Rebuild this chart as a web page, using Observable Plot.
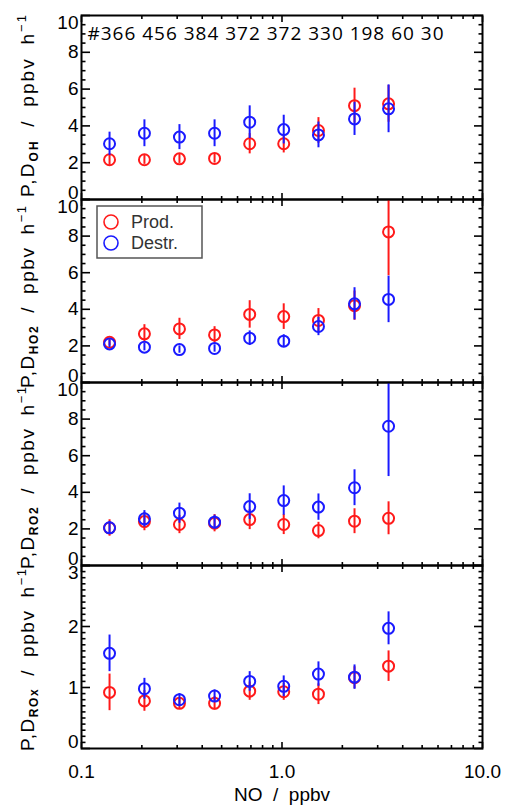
<!DOCTYPE html>
<html><head><meta charset="utf-8">
<script src="https://cdn.jsdelivr.net/npm/d3@7"></script>
<script src="https://cdn.jsdelivr.net/npm/@observablehq/plot@0.6"></script>
<style>
body{margin:0;background:#fff;}
#chart{position:relative;width:507px;height:806px;}
#chart svg{position:absolute;left:0;top:0;}
</style></head><body><div id="chart"></div>
<script>
// NO bins (ppbv) and number of points per bin
const no = [0.138, 0.206, 0.308, 0.461, 0.69, 1.02, 1.52, 2.3, 3.4];
const counts = [366, 456, 384, 372, 372, 330, 198, 60, 30];

// OH
const ohProd      = [2.16, 2.16, 2.21, 2.23, 3.03, 3.03, 3.75, 5.10, 5.20];
const ohProdErr   = [0.30, 0.25, 0.25, 0.25, 0.55, 0.50, 0.70, 0.95, 1.00];
const ohDestr     = [3.03, 3.60, 3.39, 3.60, 4.20, 3.80, 3.51, 4.38, 4.93];
const ohDestrErr  = [0.63, 0.73, 0.68, 0.73, 0.89, 0.78, 0.70, 0.90, 1.30];
// HO2
const ho2Prod     = [2.20, 2.66, 2.93, 2.60, 3.72, 3.60, 3.39, 4.20, 8.23];
const ho2ProdErr  = [0.20, 0.50, 0.58, 0.45, 0.75, 0.70, 0.65, 0.80, 2.40];
const ho2Destr    = [2.11, 1.93, 1.80, 1.86, 2.42, 2.26, 3.06, 4.30, 4.54];
const ho2DestrErr = [0.20, 0.20, 0.20, 0.20, 0.40, 0.35, 0.50, 0.88, 1.27];
// RO2
const ro2Prod     = [2.05, 2.40, 2.24, 2.31, 2.51, 2.24, 1.91, 2.42, 2.58];
const ro2ProdErr  = [0.45, 0.50, 0.50, 0.47, 0.55, 0.55, 0.45, 0.68, 0.90];
const ro2Destr    = [2.06, 2.55, 2.86, 2.37, 3.22, 3.55, 3.19, 4.25, 7.61];
const ro2DestrErr = [0.35, 0.45, 0.55, 0.38, 0.70, 0.80, 0.72, 0.98, 2.75];
// ROx
const roxProd     = [0.92, 0.78, 0.74, 0.74, 0.94, 0.93, 0.89, 1.16, 1.35];
const roxProdErr  = [0.30, 0.17, 0.09, 0.11, 0.15, 0.14, 0.17, 0.18, 0.25];
const roxDestr    = [1.56, 0.98, 0.80, 0.86, 1.10, 1.02, 1.22, 1.17, 1.97];
const roxDestrErr = [0.30, 0.17, 0.10, 0.10, 0.16, 0.17, 0.20, 0.20, 0.27];

// ticks
const xMajor = [0.1, 1, 10];
const xMinor = [0.2,0.3,0.4,0.5,0.6,0.7,0.8,0.9,2,3,4,5,6,7,8,9];
const yMajor10 = [0, 2, 4, 6, 8, 10];
const yMinor10 = d3.range(0, 10.01, 0.5).filter(v => v % 2 !== 0);
const yMajor3 = [0, 1, 2, 3];
const yMinor3 = d3.range(1, 30).map(v => v / 10).filter(v => Math.round(v * 10) % 10 !== 0);

const seriesNames = ["Prod.", "Destr."];
const subs = ["OH", "HO2", "RO2", "ROx"];
const xLabel = "NO\u2007/\u2007ppbv";

const RED = "#ff1a1a", BLUE = "#1a1aff";
const FONT = "'Liberation Sans', Arial, Helvetica, sans-serif";

const panels = [
  {ymax: 10, prod: ohProd,  pe: ohProdErr,  destr: ohDestr,  de: ohDestrErr},
  {ymax: 10, prod: ho2Prod, pe: ho2ProdErr, destr: ho2Destr, de: ho2DestrErr},
  {ymax: 10, prod: ro2Prod, pe: ro2ProdErr, destr: ro2Destr, de: ro2DestrErr},
  {ymax: 3,  prod: roxProd, pe: roxProdErr, destr: roxDestr, de: roxDestrErr}
];
const W = 507, H = 806;
const tops = [15, 199, 382, 565], bottoms = [199, 382, 565, 748];
const labelCY = [106, 297, 478, 660];

const chart = document.getElementById("chart");
const fmt = d => String(d);

panels.forEach((p, i) => {
  const rows = no.map((x, j) => ({x, prod: p.prod[j], pe: p.pe[j], destr: p.destr[j], de: p.de[j]}));
  const major = p.ymax === 10 ? yMajor10 : yMajor3;
  const minor = p.ymax === 10 ? yMinor10 : yMinor3;
  const tk = {fill: "none", label: null, strokeWidth: 1.6};
  const marks = [
    Plot.ruleX(rows, {x: "x", y1: d => d.prod - d.pe, y2: d => d.prod + d.pe, stroke: RED, strokeWidth: 2, clip: "frame"}),
    Plot.dot(rows, {x: "x", y: "prod", r: 5.5, stroke: RED, strokeWidth: 2, fill: "none"}),
    Plot.ruleX(rows, {x: "x", y1: d => d.destr - d.de, y2: d => d.destr + d.de, stroke: BLUE, strokeWidth: 2, clip: "frame"}),
    Plot.dot(rows, {x: "x", y: "destr", r: 5.5, stroke: BLUE, strokeWidth: 2, fill: "none"}),
    Plot.axisY({ticks: major, anchor: "left", tickSize: -9, ...tk}),
    Plot.axisY({ticks: minor, anchor: "left", tickSize: -4.5, ...tk}),
    Plot.axisY({ticks: major, anchor: "right", tickSize: -9, ...tk}),
    Plot.axisY({ticks: minor, anchor: "right", tickSize: -4.5, ...tk}),
    Plot.axisX({ticks: xMajor, anchor: "bottom", tickSize: -6, ...tk}),
    Plot.axisX({ticks: xMinor, anchor: "bottom", tickSize: -3, ...tk}),
    Plot.axisX({ticks: xMajor, anchor: "top", tickSize: -6, ...tk}),
    Plot.axisX({ticks: xMinor, anchor: "top", tickSize: -3, ...tk}),
    Plot.axisY({ticks: major.slice(1, -1), anchor: "left", tickSize: 0, tickPadding: 3, tickFormat: fmt, label: null}),
    Plot.axisY({ticks: [major[major.length - 1]], anchor: "left", tickSize: 0, tickPadding: 3, dy: 7, tickFormat: fmt, label: null}),
    Plot.axisY({ticks: [0], anchor: "left", tickSize: 0, tickPadding: 3, dy: -7, tickFormat: fmt, label: null}),
    Plot.frame({stroke: "black", strokeWidth: 2})
  ];
  if (i === 0) {
    marks.push(Plot.text(["#" + counts.join(" ")], {text: d => d, frameAnchor: "top-left", dx: 6, dy: 11, lineAnchor: "top", textAnchor: "start", fontFamily: "'Open Sans', 'Noto Sans', sans-serif", fontSize: 19, fill: "black"}));
  }
  if (i === 3) {
    marks.push(Plot.axisX({ticks: xMajor, anchor: "bottom", tickSize: 0, tickPadding: 16, tickFormat: d => d.toFixed(1), label: null}));
    marks.push(Plot.text([xLabel], {text: d => d, frameAnchor: "bottom", dy: 52, fontSize: 19, fill: "black"}));
  }
  const svgEl = Plot.plot({
    width: W, height: H,
    marginLeft: 81, marginRight: W - 482, marginTop: tops[i], marginBottom: H - bottoms[i],
    x: {type: "log", domain: [0.1, 10], axis: null},
    y: {domain: [0, p.ymax], axis: null},
    style: {fontFamily: FONT, fontSize: "19px", background: "none", overflow: "visible", color: "black"},
    marks
  });
  chart.appendChild(svgEl);
  const svg = d3.select(svgEl);

  // y label with subscript and superscript
  const t = svg.append("text")
    .attr("transform", `translate(34,${labelCY[i]}) rotate(-90)`)
    .attr("text-anchor", "middle")
    .attr("font-size", 19)
    .attr("fill", "black")
    .attr("textLength", 182)
    .attr("lengthAdjust", "spacing");
  t.append("tspan").text("P,D");
  t.append("tspan").attr("font-size", 12).attr("font-weight", "bold").attr("dy", 4).text(subs[i]);
  t.append("tspan").attr("dy", -4).text("\u2007/\u2007ppbv\u2007h");
  t.append("tspan").attr("font-size", 13).attr("dy", -8).text("\u22121");

  if (i === 0) {
    svg.selectAll("text").filter(function() { return this.textContent.startsWith("#"); })
      .attr("textLength", 356).attr("lengthAdjust", "spacing");
  }
  if (i === 1) {
    const g = svg.append("g");
    g.append("rect").attr("x", 97).attr("y", 206).attr("width", 105).attr("height", 52)
      .attr("fill", "white").attr("stroke", "#555").attr("stroke-width", 1.5);
    [RED, BLUE].forEach((c, k) => {
      const cy = 222 + k * 21;
      g.append("circle").attr("cx", 111).attr("cy", cy).attr("r", 7).attr("fill", "none")
        .attr("stroke", c).attr("stroke-width", 1.6);
      g.append("text").attr("x", 131).attr("y", cy).attr("dy", "0.35em").attr("font-size", 18)
        .attr("text-anchor", "start").attr("fill", "#333").text(seriesNames[k]);
    });
  }
});
</script></body></html>
